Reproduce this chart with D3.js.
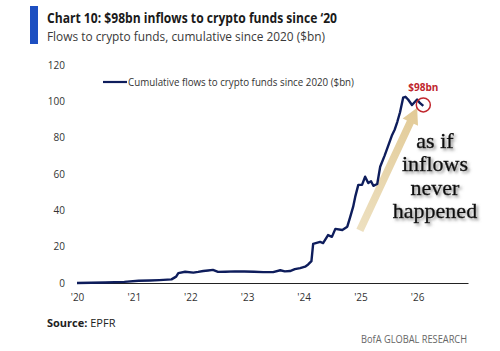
<!DOCTYPE html>
<html>
<head>
<meta charset="utf-8">
<script src="https://cdn.jsdelivr.net/npm/d3@7"></script>
<style>
  html, body { margin: 0; padding: 0; background: #fff; }
  svg { display: block; font-family: "Open Sans", "Noto Sans", sans-serif; }
</style>
</head>
<body>
<div id="chart"></div>
<script>
// cumulative flows to crypto funds, $bn
const dates = [
  "2020-01-01", "2020-04-01", "2020-07-01", "2020-11-01", "2021-02-01", "2021-04-15",
  "2021-06-15", "2021-09-01", "2021-10-01", "2021-10-15", "2021-11-28", "2022-01-20",
  "2022-02-20", "2022-03-25", "2022-04-25", "2022-05-26", "2022-06-28", "2022-08-15",
  "2022-10-15", "2022-12-15", "2023-02-15", "2023-04-15", "2023-06-18", "2023-08-03",
  "2023-09-01", "2023-10-05", "2023-11-05", "2023-12-09", "2024-01-10", "2024-01-30",
  "2024-02-20", "2024-03-02", "2024-04-16", "2024-05-05", "2024-06-06", "2024-07-01",
  "2024-07-23", "2024-09-06", "2024-10-08", "2024-10-27", "2024-11-15", "2024-11-28",
  "2024-12-18", "2025-01-11", "2025-01-31", "2025-02-20", "2025-03-10", "2025-03-25",
  "2025-04-19", "2025-05-08", "2025-06-05", "2025-06-22", "2025-07-24", "2025-08-10",
  "2025-08-26", "2025-09-13", "2025-10-03", "2025-10-18", "2025-11-04", "2025-11-29",
  "2026-01-01", "2026-01-20", "2026-02-10"
];
const flows = [
  0, 0.1, 0.3, 0.6, 1.2, 1.4,
  1.6, 2.0, 3.5, 5.4, 6.2, 5.7,
  6.1, 6.6, 6.9, 7.2, 6.1, 6.2,
  6.4, 6.3, 6.2, 6.0, 6.0, 7.0,
  6.4, 6.6, 7.6, 8.2, 9.0, 10.2,
  12.0, 21.5, 22.6, 22.0, 26.4, 25.4,
  29.8, 29.2, 31.0, 36.4, 42.0, 47.4,
  54.0, 54.0, 58.5, 55.0, 56.0, 53.5,
  54.5, 64.0, 70.0, 74.0, 81.5, 84.5,
  88.6, 94.0, 102.0, 102.5, 101.0, 98.0,
  101.0, 99.0, 97.5
];
const yTicks = [0, 20, 40, 60, 80, 100, 120];
const xTickYears = [2020, 2021, 2022, 2023, 2024, 2025, 2026];

const title = "Chart 10: $98bn inflows to crypto funds since \u201820";
const subtitle = "Flows to crypto funds, cumulative since 2020 ($bn)";
const legendLabel = "Cumulative flows to crypto funds since 2020 ($bn)";
const calloutLabel = "$98bn";
const noteLines = ["as if", "inflows", "never", "happened"];

const width = 500, height = 351;
const navy = "#0e1d5c";
const red = "#c0262d";

const parse = d3.timeParse("%Y-%m-%d");
const points = dates.map((d, i) => ({ date: parse(d), value: flows[i] }));

const svg = d3.select("#chart").append("svg")
  .attr("width", width)
  .attr("height", height);

const x = d3.scaleTime()
  .domain([new Date(2020, 0, 1), new Date(2026, 10, 25)])
  .range([77, 468]);

const y = d3.scaleLinear()
  .domain([0, 120])
  .range([283, 65]);

// header
svg.append("rect")
  .attr("x", 30).attr("y", 6)
  .attr("width", 8).attr("height", 38)
  .attr("fill", "#1d4fc1");

svg.append("text")
  .attr("x", 47).attr("y", 23)
  .attr("font-size", 14).attr("font-weight", "bold")
  .attr("fill", "#1a1a1a")
  .attr("textLength", 290).attr("lengthAdjust", "spacingAndGlyphs")
  .text(title);

svg.append("text")
  .attr("x", 47).attr("y", 41)
  .attr("font-size", 13)
  .attr("fill", "#3a3a3a")
  .attr("textLength", 278).attr("lengthAdjust", "spacingAndGlyphs")
  .text(subtitle);

// y axis labels only
svg.append("g")
  .selectAll("text")
  .data(yTicks)
  .join("text")
  .attr("x", 65)
  .attr("y", d => y(d))
  .attr("dy", "0.35em")
  .attr("text-anchor", "end")
  .attr("font-size", 10)
  .attr("fill", "#333")
  .text(d => d);

// x axis
const xAxis = svg.append("g")
  .attr("transform", `translate(0, ${y(0)})`)
  .call(d3.axisBottom(x)
    .tickValues(xTickYears.map(yr => new Date(yr, 0, 1)))
    .tickFormat(d3.timeFormat("'%y"))
    .tickSize(0)
    .tickPadding(11));
xAxis.select(".domain").attr("stroke", "#222").attr("stroke-width", 1.2);
xAxis.selectAll("text")
  .attr("font-size", 10)
  .attr("fill", "#333")
  .attr("font-family", "\"Open Sans\", sans-serif");

// legend
svg.append("line")
  .attr("x1", 103).attr("x2", 127)
  .attr("y1", 82).attr("y2", 82)
  .attr("stroke", navy).attr("stroke-width", 2.2);
svg.append("text")
  .attr("x", 128).attr("y", 82)
  .attr("dy", "0.35em")
  .attr("font-size", 10.5)
  .attr("fill", "#333")
  .attr("textLength", 226).attr("lengthAdjust", "spacingAndGlyphs")
  .text(legendLabel);

// annotation arrow (tail/tip in data space)
const defs = svg.append("defs");
const grad = defs.append("linearGradient")
  .attr("id", "arrowGrad")
  .attr("gradientUnits", "userSpaceOnUse");
const tail = [x(parse("2024-12-28")), y(29)];
const tip = [x(parse("2026-01-01")), y(96.5)];
grad.attr("x1", tail[0]).attr("y1", tail[1]).attr("x2", tip[0]).attr("y2", tip[1]);
grad.append("stop").attr("offset", "0%").attr("stop-color", "#ede0c0");
grad.append("stop").attr("offset", "100%").attr("stop-color", "#e2ca96");

const dx = tip[0] - tail[0], dy = tip[1] - tail[1];
const len = Math.hypot(dx, dy);
const ux = dx / len, uy = dy / len, nx = -uy, ny = ux;
const shaftW = 3.8, headW = 8.5, headL = 16;
const hb = [tip[0] - ux * headL, tip[1] - uy * headL];
const arrowPts = [
  [tail[0] + nx * shaftW, tail[1] + ny * shaftW],
  [hb[0] + nx * shaftW, hb[1] + ny * shaftW],
  [hb[0] + nx * headW, hb[1] + ny * headW],
  tip,
  [hb[0] - nx * headW, hb[1] - ny * headW],
  [hb[0] - nx * shaftW, hb[1] - ny * shaftW],
  [tail[0] - nx * shaftW, tail[1] - ny * shaftW]
];
svg.append("polygon")
  .attr("points", arrowPts.map(p => p.join(",")).join(" "))
  .attr("fill", "url(#arrowGrad)");

// line
const line = d3.line()
  .x(d => x(d.date))
  .y(d => y(d.value));

svg.append("path")
  .datum(points)
  .attr("fill", "none")
  .attr("stroke", navy)
  .attr("stroke-width", 2.4)
  .attr("stroke-linejoin", "round")
  .attr("d", line);

// $98bn callout
const last = points[points.length - 1];
svg.append("circle")
  .attr("cx", x(last.date))
  .attr("cy", y(last.value) - 1)
  .attr("r", 7)
  .attr("fill", "none")
  .attr("stroke", red)
  .attr("stroke-width", 1.5);
svg.append("text")
  .attr("x", x(last.date))
  .attr("y", y(last.value) - 15)
  .attr("text-anchor", "middle")
  .attr("font-size", 10)
  .attr("font-weight", "bold")
  .attr("fill", red)
  .text(calloutLabel);

// "as if inflows never happened"
const shadow = defs.append("filter").attr("id", "shadow")
  .attr("x", "-20%").attr("y", "-20%").attr("width", "140%").attr("height", "140%");
shadow.append("feDropShadow")
  .attr("dx", 2).attr("dy", 2)
  .attr("stdDeviation", 1.5)
  .attr("flood-color", "#777")
  .attr("flood-opacity", 0.8);

svg.append("g")
  .attr("filter", "url(#shadow)")
  .selectAll("text")
  .data(noteLines)
  .join("text")
  .attr("x", 435)
  .attr("y", (d, i) => 148 + i * 23.3)
  .attr("text-anchor", "middle")
  .attr("font-family", "\"Liberation Serif\", \"DejaVu Serif\", serif")
  .attr("font-size", 22)
  .attr("fill", "#111")
  .attr("stroke", "#111")
  .attr("stroke-width", 0.4)
  .text(d => d);

// footer
const src = svg.append("text")
  .attr("x", 47).attr("y", 327)
  .attr("font-size", 11)
  .attr("fill", "#222");
src.append("tspan").attr("font-weight", "bold").text("Source:");
src.append("tspan").text(" EPFR");

svg.append("text")
  .attr("x", 467).attr("y", 343)
  .attr("text-anchor", "end")
  .attr("font-size", 11)
  .attr("fill", "#666")
  .attr("textLength", 106).attr("lengthAdjust", "spacingAndGlyphs")
  .text("BofA GLOBAL RESEARCH");
</script>
</body>
</html>
